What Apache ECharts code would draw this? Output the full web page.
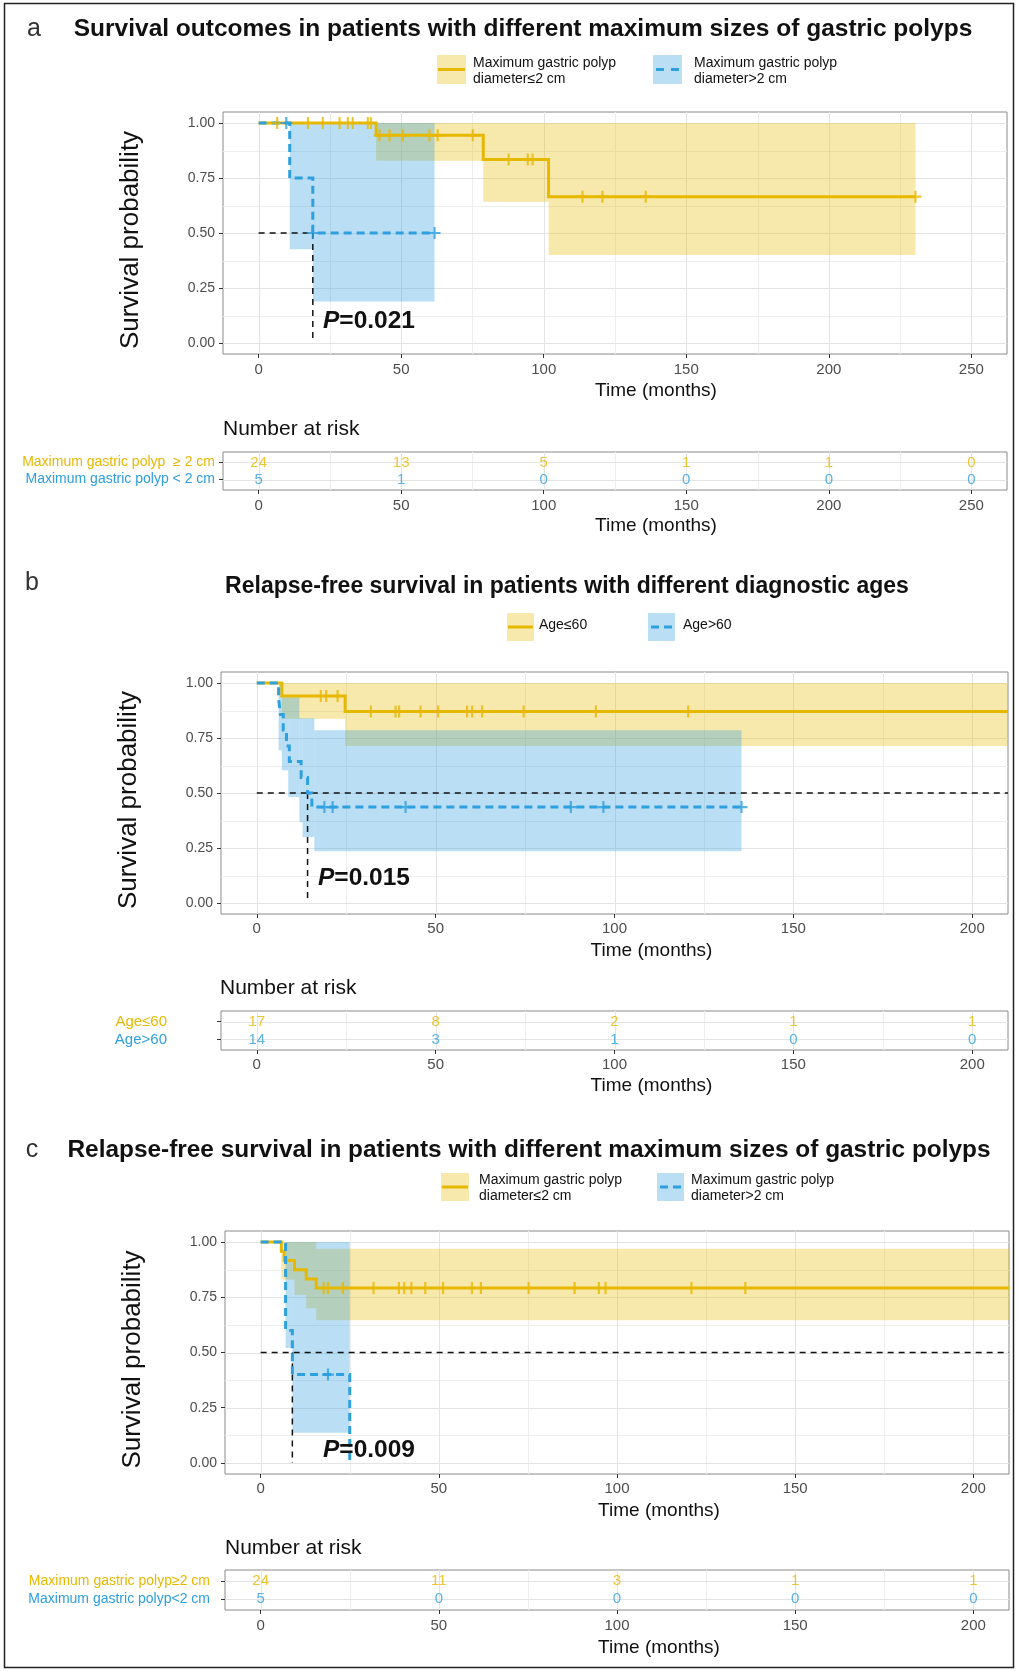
<!DOCTYPE html>
<html><head><meta charset="utf-8">
<script src="https://cdn.jsdelivr.net/npm/echarts@6/dist/echarts.min.js"></script>
<style>html,body{margin:0;padding:0;background:#fff}#c{width:1018px;height:1671px}</style>
</head><body><div id="c"></div>
<script>
const YEL = '#E7B800', BLU = '#2E9FDF';
const YEL_BAND = 'rgba(231,184,0,0.33)', BLU_BAND = 'rgba(46,159,223,0.33)';
const FONT = '"Liberation Sans", Arial, Helvetica, sans-serif';

// ---------- Panel a : survival, polyp size ----------
const aTicks = [0, 50, 100, 150, 200, 250];
const aYelTime = [0, 41.2, 78.8, 101.7];
const aYelSurv = [1, 0.944, 0.834, 0.665];
const aYelEnd = 230.4;
const aYelCens = [6.5, 17.3, 22.5, 28.4, 31.3, 33.0, 38.3, 39.4, 42.4, 45.9, 50.6, 59.9, 62.8, 75.1, 87.7, 94.4, 96.1, 113.6, 120.6, 135.8, 230.4];
const aYelBandT = [41.2, 78.8, 101.7, 230.4];
const aYelBandLo = [0.828, 0.642, 0.40];
const aYelBandHi = [1, 1, 1];
const aBluTime = [0, 10.9, 19.0];
const aBluSurv = [1, 0.75, 0.5];
const aBluEnd = 61.7;
const aBluCens = [9.7, 19.0, 61.7];
const aBluBandT = [10.9, 19.0, 61.7];
const aBluBandLo = [0.426, 0.189];
const aBluBandHi = [1, 1];
const aMedian = 19.0;
const aMedianHEnd = 19.0;
const aRiskYel = [24, 13, 5, 1, 1, 0];
const aRiskBlu = [5, 1, 0, 0, 0, 0];
const aRiskLabels = ['Maximum gastric polyp < 2 cm', 'Maximum gastric polyp  \u2265 2 cm'];

// ---------- Panel b : relapse-free, age ----------
const bTicks = [0, 50, 100, 150, 200];
const bYelTime = [0, 7.0, 24.7];
const bYelSurv = [1, 0.941, 0.871];
const bYelEnd = 210;
const bYelCens = [17.9, 19.4, 22.6, 31.9, 38.8, 39.8, 45.8, 50.7, 58.8, 60.2, 63.0, 74.6, 94.8, 120.6];
const bYelBandT = [7.0, 24.7, 210];
const bYelBandLo = [0.838, 0.714];
const bYelBandHi = [1, 1];
const bBluTime = [0, 6.1, 6.6, 7.4, 8.3, 9.1, 12.4, 14.2, 15.4];
const bBluSurv = [1, 0.929, 0.857, 0.786, 0.714, 0.643, 0.571, 0.5, 0.436];
const bBluEnd = 135.5;
const bBluCens = [18.9, 21.2, 41.6, 87.8, 96.9, 135.5];
const bBluBandT = [6.1, 7.0, 8.8, 11.9, 12.8, 16.1, 135.5];
const bBluBandLo = [0.694, 0.603, 0.482, 0.368, 0.300, 0.235];
const bBluBandHi = [1.0, 0.935, 0.935, 0.84, 0.84, 0.785];
const bMedian = 14.2;
const bMedianHEnd = 210;
const bRiskYel = [17, 8, 2, 1, 1];
const bRiskBlu = [14, 3, 1, 0, 0];
const bRiskLabels = ['Age>60', 'Age\u226460'];

// ---------- Panel c : relapse-free, polyp size ----------
const cTicks = [0, 50, 100, 150, 200];
const cYelTime = [0, 5.8, 6.6, 9.5, 12.8, 15.6];
const cYelSurv = [1, 0.958, 0.917, 0.875, 0.833, 0.792];
const cYelEnd = 210;
const cYelCens = [17.7, 18.9, 23.1, 31.7, 38.8, 40.3, 42.3, 46.2, 51.2, 59.3, 61.8, 75.2, 88.1, 94.9, 96.8, 120.9, 136.0];
const cYelBandT = [5.8, 9.5, 12.8, 15.6, 210];
const cYelBandLo = [0.83, 0.76, 0.70, 0.646];
const cYelBandHi = [1, 1, 1, 0.97];
const cBluTime = [0, 7.0, 8.9, 25.0];
const cBluSurv = [1, 0.6, 0.4, 0];
const cBluEnd = 25.0;
const cBluCens = [18.9];
const cBluBandT = [7.0, 8.9, 25.0];
const cBluBandLo = [0.52, 0.137];
const cBluBandHi = [1, 1];
const cMedian = 8.9;
const cMedianHEnd = 210;
const cRiskYel = [24, 11, 3, 1, 1];
const cRiskBlu = [5, 0, 0, 0, 0];
const cRiskLabels = ['Maximum gastric polyp<2 cm', 'Maximum gastric polyp\u22652 cm'];

const yTicks = [0, 0.25, 0.5, 0.75, 1];
const yMinor = [0.125, 0.375, 0.625, 0.875];

// ---------- helpers ----------
function stepPts(times, survs, end) {
  const pts = [];
  for (let i = 0; i < times.length; i++) {
    if (i > 0) pts.push([times[i], survs[i - 1]]);
    pts.push([times[i], survs[i]]);
  }
  pts.push([end, survs[survs.length - 1]]);
  return pts;
}
function survAt(times, survs, t) {
  let s = survs[0];
  for (let i = 0; i < times.length; i++) if (times[i] <= t) s = survs[i];
  return s;
}
function bands(T, lo, hi) {
  const out = [];
  for (let i = 0; i < lo.length; i++) out.push([T[i], T[i + 1], lo[i], hi[i]]);
  return out;
}
function mids(ticks) {
  const out = [];
  for (let i = 0; i < ticks.length - 1; i++) out.push((ticks[i] + ticks[i + 1]) / 2);
  return out;
}
const PLUS = 'path://M0,4.1H10V5.9H0Z M4.1,0H5.9V10H4.1Z';

const grids = [], xAxes = [], yAxes = [], series = [];

function gridLineSeries(gi, xMaj, xMin, yMaj, yMin) {
  const data = [];
  xMin.forEach(v => data.push([0, v, 0]));
  yMin.forEach(v => data.push([1, v, 0]));
  xMaj.forEach(v => data.push([0, v, 1]));
  yMaj.forEach(v => data.push([1, v, 1]));
  series.push({
    type: 'custom', xAxisIndex: gi, yAxisIndex: gi, data, z: 0, silent: true,
    renderItem(params, api) {
      const cs = params.coordSys;
      const o = api.value(0), v = api.value(1), m = api.value(2);
      const style = { stroke: m ? '#e4e4e4' : '#eeeeee', lineWidth: 1 };
      if (o === 0) {
        const x = Math.round(api.coord([v, 1])[0]) + 0.5;
        return { type: 'line', shape: { x1: x, y1: cs.y, x2: x, y2: cs.y + cs.height }, style };
      }
      const y = Math.round(api.coord([0, v])[1]) + 0.5;
      return { type: 'line', shape: { x1: cs.x, y1: y, x2: cs.x + cs.width, y2: y }, style };
    }
  });
}
function bandSeries(gi, data, color) {
  series.push({
    type: 'custom', xAxisIndex: gi, yAxisIndex: gi, data, z: 1, silent: true,
    renderItem(params, api) {
      const cs = params.coordSys;
      const p = api.coord([api.value(0), api.value(3)]);
      const q = api.coord([api.value(1), api.value(2)]);
      const x0 = Math.max(p[0], cs.x), x1 = Math.min(q[0], cs.x + cs.width);
      return { type: 'rect', shape: { x: x0, y: p[1], width: x1 - x0, height: q[1] - p[1] }, style: { fill: color } };
    }
  });
}
function lineSeries(gi, data, color, width, dash, z) {
  series.push({
    type: 'line', xAxisIndex: gi, yAxisIndex: gi, data, showSymbol: false, symbol: 'none',
    lineStyle: { color, width, type: dash || 'solid', cap: 'butt', join: 'miter' }, z: z || 2, silent: true, clip: true
  });
}
function censSeries(gi, cens, times, survs, color) {
  series.push({
    type: 'scatter', xAxisIndex: gi, yAxisIndex: gi,
    data: cens.map(t => [t, survAt(times, survs, t)]),
    symbol: PLUS, symbolSize: 12, itemStyle: { color }, z: 4, silent: true
  });
}

function kmPanel(gi, box, xr, ticks, d) {
  grids.push({ left: box[0], top: box[1], width: box[2], height: box[3], show: true, borderColor: '#8a8a8a', borderWidth: 1, backgroundColor: 'transparent' });
  xAxes.push({
    gridIndex: gi, type: 'value', min: xr[0], max: xr[1],
    axisLine: { show: false, onZero: false },
    axisTick: { show: true, customValues: ticks, length: 4, lineStyle: { color: '#333', width: 1 } },
    axisLabel: { customValues: ticks, margin: d.xLabMargin, color: '#4d4d4d', fontSize: 15, fontFamily: FONT },
    splitLine: { show: false },
    name: 'Time (months)', nameLocation: 'middle', nameGap: d.xNameGap,
    nameTextStyle: { fontSize: 19, color: '#111', fontFamily: FONT, padding: [0, 0, 0, d.xNameShift * 2] }
  });
  yAxes.push({
    gridIndex: gi, type: 'value', min: -0.05, max: 1.05,
    axisLine: { show: false, onZero: false },
    axisTick: { show: true, customValues: yTicks, length: 4, lineStyle: { color: '#333', width: 1 } },
    axisLabel: { customValues: yTicks, formatter: v => Number(v).toFixed(2), margin: 8, color: '#4d4d4d', fontSize: 14, fontFamily: FONT },
    splitLine: { show: false },
    name: 'Survival probability', nameLocation: 'middle', nameGap: 79, nameRotate: 90,
    nameTextStyle: { fontSize: 26, color: '#111', fontFamily: FONT, padding: [0, 14, 0, 0] }
  });
  gridLineSeries(gi, ticks, mids(ticks), yTicks, yMinor);
  bandSeries(gi, bands(d.yBT, d.yBL, d.yBH), YEL_BAND);
  bandSeries(gi, bands(d.bBT, d.bBL, d.bBH), BLU_BAND);
  lineSeries(gi, [[0, 0.5], [d.medH, 0.5]], '#111', 1.5, [6, 5], 3);
  lineSeries(gi, [[d.med, 0.5], [d.med, 0]], '#111', 1.5, [6, 5], 3);
  lineSeries(gi, stepPts(d.yT, d.yS, d.yE), YEL, 3, 'solid', 2);
  lineSeries(gi, stepPts(d.bT, d.bS, d.bE), BLU, 3, [8, 5], 3);
  censSeries(gi, d.yC, d.yT, d.yS, YEL);
  censSeries(gi, d.bC, d.bT, d.bS, BLU);
}

function riskPanel(gi, box, xr, ticks, yel, blu, labels, lab) {
  grids.push({ left: box[0], top: box[1], width: box[2], height: box[3], show: true, borderColor: '#8a8a8a', borderWidth: 1, backgroundColor: 'transparent' });
  xAxes.push({
    gridIndex: gi, type: 'value', min: xr[0], max: xr[1],
    axisLine: { show: false, onZero: false },
    axisTick: { show: true, customValues: ticks, length: 4, lineStyle: { color: '#333', width: 1 } },
    axisLabel: { customValues: ticks, margin: lab.xLabMargin, color: '#4d4d4d', fontSize: 15, fontFamily: FONT },
    splitLine: { show: false },
    name: 'Time (months)', nameLocation: 'middle', nameGap: lab.xNameGap,
    nameTextStyle: { fontSize: 19, color: '#111', fontFamily: FONT, padding: [0, 0, 0, lab.xNameShift * 2] }
  });
  yAxes.push({
    gridIndex: gi, type: 'value', min: 0.4, max: 2.6,
    axisLine: { show: false, onZero: false },
    axisTick: { show: true, customValues: [1, 2], length: 4, lineStyle: { color: '#333', width: 1 } },
    axisLabel: {
      customValues: [1, 2], margin: lab.yLabMargin, fontFamily: FONT,
      formatter: v => (Math.round(v) === 2 ? '{y|' : '{b|') + labels[Math.round(v) - 1] + '}',
      rich: { y: { color: YEL, fontSize: lab.yLabSize, fontFamily: FONT }, b: { color: BLU, fontSize: lab.yLabSize, fontFamily: FONT } }
    },
    splitLine: { show: false }
  });
  gridLineSeries(gi, ticks, mids(ticks), [1, 2], []);
  [[yel, 2, YEL], [blu, 1, BLU]].forEach(([arr, row, col]) => {
    series.push({
      type: 'scatter', xAxisIndex: gi, yAxisIndex: gi,
      data: ticks.map((t, i) => [t, row, arr[i]]),
      symbol: 'rect', symbolSize: 1, itemStyle: { color: 'rgba(0,0,0,0)' }, z: 4, silent: true,
      label: { show: true, position: 'inside', formatter: p => String(p.value[2]), color: col, fontSize: 15, fontFamily: FONT }
    });
  });
}

// ---------- build panels ----------
kmPanel(0, [223, 112, 784, 242], [-12.5, 262.5], aTicks, {
  xLabMargin: 8, xNameGap: 27, xNameShift: 41,
  yT: aYelTime, yS: aYelSurv, yE: aYelEnd, yC: aYelCens, yBT: aYelBandT, yBL: aYelBandLo, yBH: aYelBandHi,
  bT: aBluTime, bS: aBluSurv, bE: aBluEnd, bC: aBluCens, bBT: aBluBandT, bBL: aBluBandLo, bBH: aBluBandHi,
  med: aMedian, medH: aMedianHEnd
});
riskPanel(1, [223, 452, 784, 38], [-12.5, 262.5], aTicks, aRiskYel, aRiskBlu, aRiskLabels,
  { xLabMargin: 8, xNameGap: 26, xNameShift: 41, yLabMargin: 8, yLabSize: 14 });

kmPanel(2, [221, 672, 787, 242], [-10, 210], bTicks, {
  xLabMargin: 7, xNameGap: 27, xNameShift: 37,
  yT: bYelTime, yS: bYelSurv, yE: bYelEnd, yC: bYelCens, yBT: bYelBandT, yBL: bYelBandLo, yBH: bYelBandHi,
  bT: bBluTime, bS: bBluSurv, bE: bBluEnd, bC: bBluCens, bBT: bBluBandT, bBL: bBluBandLo, bBH: bBluBandHi,
  med: bMedian, medH: bMedianHEnd
});
riskPanel(3, [221, 1011, 787, 39], [-10, 210], bTicks, bRiskYel, bRiskBlu, bRiskLabels,
  { xLabMargin: 7, xNameGap: 26, xNameShift: 37, yLabMargin: 54, yLabSize: 15 });

kmPanel(4, [225, 1231, 784, 243], [-10, 210], cTicks, {
  xLabMargin: 7, xNameGap: 27, xNameShift: 42,
  yT: cYelTime, yS: cYelSurv, yE: cYelEnd, yC: cYelCens, yBT: cYelBandT, yBL: cYelBandLo, yBH: cYelBandHi,
  bT: cBluTime, bS: cBluSurv, bE: cBluEnd, bC: cBluCens, bBT: cBluBandT, bBL: cBluBandLo, bBH: cBluBandHi,
  med: cMedian, medH: cMedianHEnd
});
riskPanel(5, [225, 1570, 784, 40], [-10, 210], cTicks, cRiskYel, cRiskBlu, cRiskLabels,
  { xLabMargin: 8, xNameGap: 28, xNameShift: 42, yLabMargin: 15, yLabSize: 14 });

// ---------- decorations (titles, legends, annotations) ----------
const graphic = [];
function txt(x, y, text, size, opts) {
  graphic.push({ type: 'text', x, y, silent: true,
    style: Object.assign({ text, fontSize: size, fontFamily: FONT, fill: '#111', align: 'left', verticalAlign: 'middle' }, (opts && opts.style) || {}) });
}
graphic.push({ type: 'rect', shape: { x: 4.5, y: 3.5, width: 1009, height: 1664 }, style: { fill: 'none', stroke: '#222', lineWidth: 1.5 }, silent: true });

// panel letters & titles
txt(34, 29, 'a', 25, { style: { align: 'center', fill: '#333' } });
txt(523, 29, 'Survival outcomes in patients with different maximum sizes of gastric polyps', 24.5, { style: { align: 'center', fontWeight: 'bold' } });
txt(32, 583, 'b', 25, { style: { align: 'center', fill: '#333' } });
txt(567, 587, 'Relapse-free survival in patients with different diagnostic ages', 23, { style: { align: 'center', fontWeight: 'bold' } });
txt(32, 1150, 'c', 25, { style: { align: 'center', fill: '#333' } });
txt(529, 1150, 'Relapse-free survival in patients with different maximum sizes of gastric polyps', 24.4, { style: { align: 'center', fontWeight: 'bold' } });

// legends
function legendKey(x, y, w, h, color, fill, dashed) {
  graphic.push({ type: 'rect', shape: { x, y, width: w, height: h }, style: { fill }, silent: true });
  const my = y + h / 2;
  if (!dashed) {
    graphic.push({ type: 'line', shape: { x1: x + 1, y1: my, x2: x + w - 1, y2: my }, style: { stroke: color, lineWidth: 3 }, silent: true });
  } else {
    graphic.push({ type: 'line', shape: { x1: x + 3, y1: my, x2: x + 11, y2: my }, style: { stroke: color, lineWidth: 3 }, silent: true });
    graphic.push({ type: 'line', shape: { x1: x + w - 11, y1: my, x2: x + w - 3, y2: my }, style: { stroke: color, lineWidth: 3 }, silent: true });
  }
}
const legA = ['Maximum gastric polyp', 'diameter\u22642 cm', 'diameter>2 cm'];
legendKey(437, 55, 29, 29, YEL, YEL_BAND, false);
txt(473, 63, legA[0], 14); txt(473, 79, legA[1], 14);
legendKey(653, 55, 29, 29, BLU, BLU_BAND, true);
txt(694, 63, legA[0], 14); txt(694, 79, legA[2], 14);

legendKey(507, 613, 27, 28, YEL, YEL_BAND, false);
txt(539, 625, 'Age\u226460', 14);
legendKey(648, 613, 27, 28, BLU, BLU_BAND, true);
txt(683, 625, 'Age>60', 14);

legendKey(441, 1173, 28, 28, YEL, YEL_BAND, false);
txt(479, 1180, legA[0], 14); txt(479, 1196, legA[1], 14);
legendKey(657, 1173, 27, 28, BLU, BLU_BAND, true);
txt(691, 1180, legA[0], 14); txt(691, 1196, legA[2], 14);

// Number at risk headers
txt(223, 429, 'Number at risk', 21);
txt(220, 988, 'Number at risk', 21);
txt(225, 1548, 'Number at risk', 21);

// P values
function pval(x, y, v) {
  graphic.push({ type: 'text', x, y, silent: true, z: 10,
    style: { text: '{i|P}{n|=' + v + '}', verticalAlign: 'middle', align: 'left',
      rich: { i: { fontStyle: 'italic', fontWeight: 'bold', fontSize: 24.5, fontFamily: FONT, fill: '#111' },
              n: { fontWeight: 'bold', fontSize: 24.5, fontFamily: FONT, fill: '#111' } } } });
}
pval(323, 321, '0.021');
pval(318, 878, '0.015');
pval(323, 1450, '0.009');

const chart = echarts.init(document.getElementById('c'));
chart.setOption({
  animation: false,
  backgroundColor: '#fff',
  grid: grids, xAxis: xAxes, yAxis: yAxes, series, graphic
});
</script></body></html>
